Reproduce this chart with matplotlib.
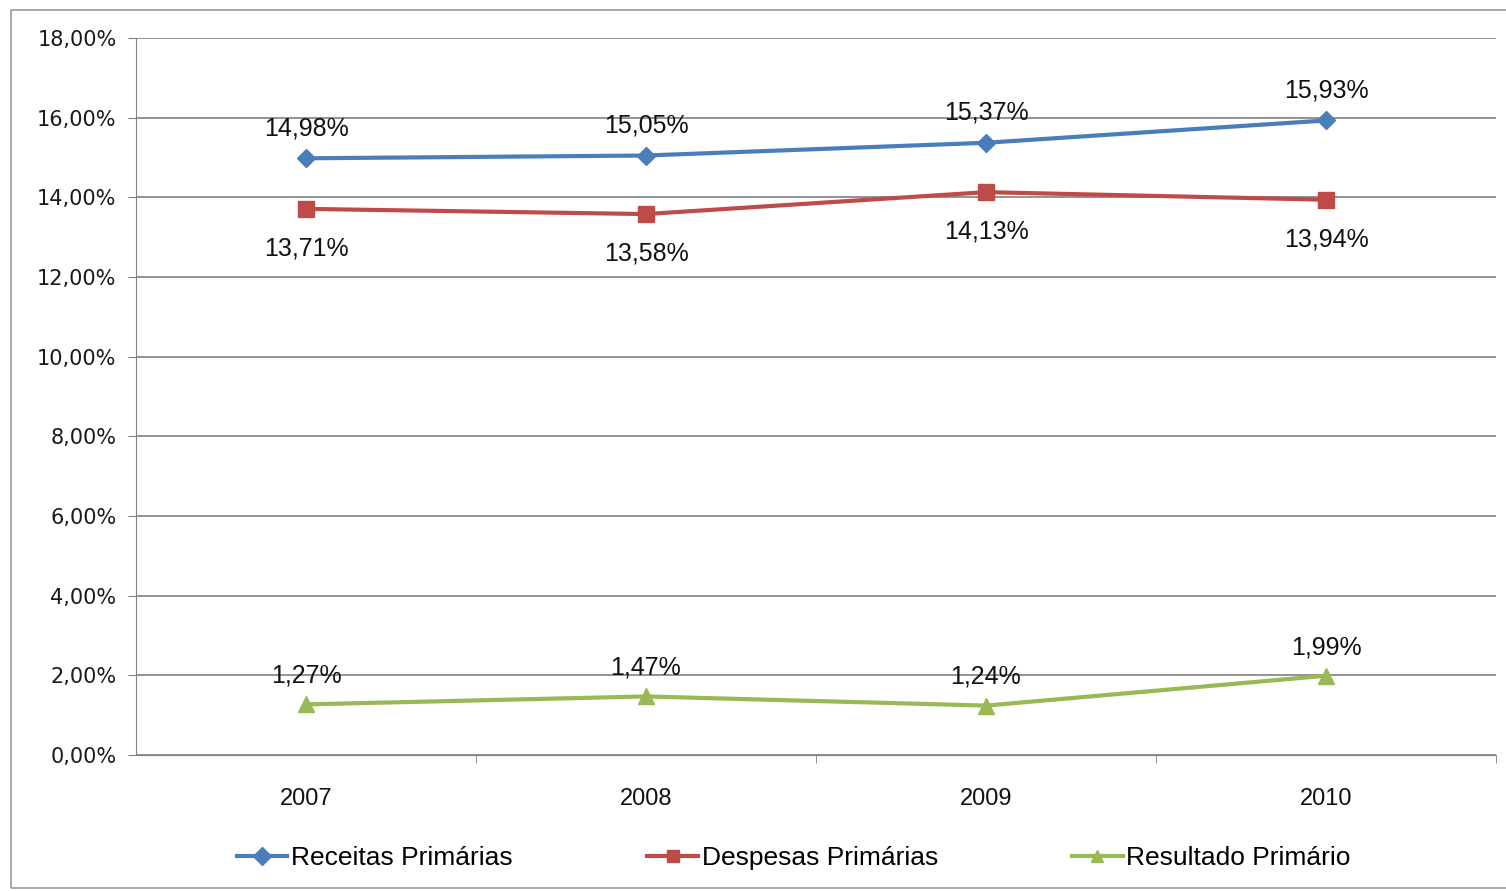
import matplotlib
matplotlib.use("Agg")
import matplotlib.pyplot as plt
from matplotlib.patches import Rectangle
from matplotlib.ticker import FixedLocator

years = ["2007", "2008", "2009", "2010"]
receitas = [14.98, 15.05, 15.37, 15.93]
despesas = [13.71, 13.58, 14.13, 13.94]
resultado = [1.27, 1.47, 1.24, 1.99]
yticks = [0, 2, 4, 6, 8, 10, 12, 14, 16, 18]

def fmt(v):
    return f"{v:.2f}%".replace(".", ",")

fig = plt.figure(figsize=(15.06, 8.91), dpi=100)
fig.patches.append(Rectangle((11/1506, 3/891), 1.0, 878/891, transform=fig.transFigure,
                             fill=False, edgecolor="#9a9a9a", linewidth=1.2))
ax = fig.add_axes([136/1506, 1 - 755/891, 1360/1506, (755 - 38)/891])

x = list(range(len(years)))
c_r, c_d, c_g = "#4A7EBB", "#BE4B48", "#98B954"
ax.plot(x, receitas, color=c_r, lw=3, marker="D", ms=9, label="Receitas Primárias", zorder=3)
ax.plot(x, despesas, color=c_d, lw=3, marker="s", ms=12, label="Despesas Primárias", zorder=3)
ax.plot(x, resultado, color=c_g, lw=3, marker="^", ms=12, label="Resultado Primário", zorder=3)

lab_font = dict(fontsize=18, family="Liberation Sans", color="#111111", ha="center")
for i in x:
    ax.annotate(fmt(receitas[i]), (i, receitas[i]), xytext=(0, 13), textcoords="offset points",
                va="bottom", **lab_font)
    ax.annotate(fmt(despesas[i]), (i, despesas[i]), xytext=(0, -20), textcoords="offset points",
                va="top", **lab_font)
    ax.annotate(fmt(resultado[i]), (i, resultado[i]), xytext=(0, 12), textcoords="offset points",
                va="bottom", **lab_font)

ax.set_xlim(-0.5, 3.5)
ax.set_ylim(0, 18)
ax.set_yticks(yticks)
ax.set_yticklabels([fmt(v) for v in yticks], fontsize=15, family="DejaVu Sans", color="#1a1a1a")
ax.yaxis.grid(True, color="#808080", lw=1.2)
ax.set_axisbelow(True)
ax.set_xticks(x)
ax.set_xticklabels(years, fontsize=17, family="Liberation Sans", color="#111111")
ax.tick_params(axis="x", length=0, pad=24)
ax.xaxis.set_minor_locator(FixedLocator([0.5, 1.5, 2.5, 3.5]))
ax.tick_params(axis="x", which="minor", length=6, color="#808080", direction="out")
ax.tick_params(axis="y", length=6, color="#808080", pad=8)
for s in ["top", "right"]:
    ax.spines[s].set_visible(False)
ax.spines["left"].set_color("#808080")
ax.spines["bottom"].set_color("#808080")

leg = fig.legend(loc="center", bbox_to_anchor=(794/1506, 1 - 858/891), ncol=3, frameon=False,
                 handlelength=1.9, handletextpad=0.15, columnspacing=5.1,
                 prop={"family": "Liberation Sans", "size": 19})
for h in leg.legend_handles:
    h.set_markersize(9)

fig.savefig("out.png", dpi=100, facecolor="white")
